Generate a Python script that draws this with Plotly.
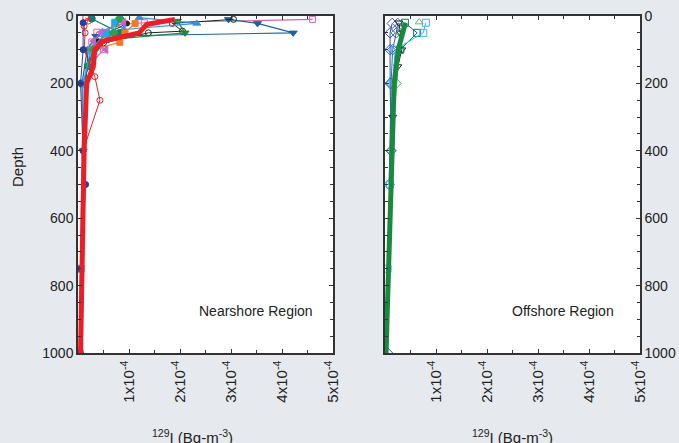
import plotly.graph_objects as go

S = 1e-4  # values below in units of 1e-4 Bq m-3

# ---------------- Nearshore region (left panel) ----------------
near_names = ["pink", "blue_down", "black_open", "black_dot", "green_down", "lightblue_up",
              "teal", "cyan_sq", "orange_sq", "red_open", "navy", "violet", "green_diamond", "red_mean"]
near_depth = {
    "pink":         [10, 20, 25, 48, 77, 100, 150, 200],
    "blue_down":    [10, 22, 50, 60, 100, 200, 400],
    "black_open":   [10, 22, 45, 50, 80, 100, 150, 200],
    "black_dot":    [22, 50, 75, 100, 200],
    "green_down":   [15, 50, 70, 100, 150],
    "lightblue_up": [5, 22, 40, 100, 200],
    "teal":         [8, 50, 100, 200],
    "cyan_sq":      [20, 50, 100, 200, 750, 1000],
    "orange_sq":    [22, 50, 78, 100],
    "red_open":     [5, 15, 30, 50, 100, 180, 250, 400, 1000],
    "navy":         [20, 100, 200, 400, 500, 750, 1000],
    "violet":       [20, 48, 75, 100],
    "green_diamond": [7, 50, 100],
    "red_mean":     [10, 25, 50, 75, 100, 150, 200, 400, 1000],
}
near_conc = {
    "pink":         [4.60, 1.30, 0.86, 0.37, 0.27, 0.50, 0.20, 0.12],
    "blue_down":    [2.95, 3.52, 4.22, 0.35, 0.18, 0.08, 0.10],
    "black_open":   [3.05, 1.85, 2.05, 1.38, 0.50, 0.25, 0.20, 0.10],
    "black_dot":    [0.96, 0.60, 0.40, 0.20, 0.15],
    "green_down":   [1.95, 2.10, 0.60, 0.35, 0.20],
    "lightblue_up": [1.20, 2.33, 0.90, 0.30, 0.10],
    "teal":         [0.27, 0.82, 0.30, 0.10],
    "cyan_sq":      [0.73, 0.55, 0.25, 0.10, 0.05, 0.03],
    "orange_sq":    [1.12, 0.92, 0.82, 0.30],
    "red_open":     [0.15, 0.20, 0.12, 0.14, 0.12, 0.33, 0.43, 0.10, 0.05],
    "navy":         [0.10, 0.10, 0.05, 0.10, 0.15, 0.05, 0.03],
    "violet":       [0.90, 0.45, 0.30, 0.55],
    "green_diamond": [0.82, 0.70, 0.30],
    "red_mean":     [1.90, 1.35, 1.20, 0.48, 0.33, 0.30, 0.17, 0.12, 0.05],
}

# ---------------- Offshore region (right panel) ----------------
off_names = ["blue_diamond", "blue_diamond2", "black_tri", "teal_sq", "cyan_sq",
             "lightgreen_up", "green_diamond", "green_mean"]
off_depth = {
    "blue_diamond":  [22, 50, 100, 200, 400, 1000],
    "blue_diamond2": [22, 50, 100, 200, 500],
    "black_tri":     [20, 50, 100, 150, 300],
    "teal_sq":       [20, 50, 100],
    "cyan_sq":       [20, 50, 100, 200, 500, 750],
    "lightgreen_up": [18],
    "green_diamond": [50, 200, 400],
    "green_mean":    [20, 50, 100, 200, 400, 750, 1000],
}
off_conc = {
    "blue_diamond":  [0.14, 0.10, 0.10, 0.10, 0.12, 0.05],
    "blue_diamond2": [0.25, 0.22, 0.15, 0.12, 0.08],
    "black_tri":     [0.27, 0.30, 0.33, 0.25, 0.15],
    "teal_sq":       [0.39, 0.63, 0.30],
    "cyan_sq":       [0.80, 0.75, 0.20, 0.15, 0.10, 0.05],
    "lightgreen_up": [0.67],
    "green_diamond": [0.30, 0.23, 0.12],
    "green_mean":    [0.40, 0.35, 0.26, 0.18, 0.14, 0.06, 0.02],
}

near_style = {
    "pink":         ("#e060a8", "square-open", 1.2, 6),
    "blue_down":    ("#1f6199", "triangle-down", 1.2, 7),
    "black_open":   ("#222222", "circle-open", 1.0, 6),
    "black_dot":    ("#222222", "circle", 1.0, 5),
    "green_down":   ("#1a8a3c", "triangle-down", 1.2, 7),
    "lightblue_up": ("#3a8fd8", "triangle-up", 1.2, 7),
    "teal":         ("#147a78", "circle", 1.2, 7),
    "cyan_sq":      ("#22a8e8", "square", 1.2, 7),
    "orange_sq":    ("#f07828", "square", 1.2, 6),
    "red_open":     ("#e8202a", "circle-open", 1.0, 6),
    "navy":         ("#2a3f9a", "circle", 1.0, 6),
    "violet":       ("#c068c8", "triangle-left", 1.2, 7),
    "green_diamond": ("#2aa050", "diamond", 1.2, 7),
    "red_mean":     ("#ee1c25", "circle", 5.0, 0),
}
off_style = {
    "blue_diamond":  ("#3050b0", "diamond-open", 1.0, 8),
    "blue_diamond2": ("#3a60c0", "diamond-open", 1.0, 8),
    "black_tri":     ("#222222", "triangle-down-open", 1.0, 7),
    "teal_sq":       ("#156f6a", "square-open", 1.0, 7),
    "cyan_sq":       ("#30b8f0", "square-open", 1.0, 7),
    "lightgreen_up": ("#55c070", "triangle-up-open", 1.0, 7),
    "green_diamond": ("#48b050", "diamond-open", 1.0, 7),
    "green_mean":    ("#178a3e", "circle", 5.0, 0),
}

fig = go.Figure()
for n in near_names:
    c, sym, lw, ms = near_style[n]
    mode = "lines" if ms == 0 else "lines+markers"
    fig.add_trace(go.Scatter(x=[v * S for v in near_conc[n]], y=near_depth[n], mode=mode,
                             line=dict(color=c, width=lw),
                             marker=dict(symbol=sym, size=ms, color=c, line=dict(color=c, width=1)),
                             xaxis="x", yaxis="y", showlegend=False))
for n in off_names:
    c, sym, lw, ms = off_style[n]
    mode = "lines" if ms == 0 else "lines+markers"
    fig.add_trace(go.Scatter(x=[v * S for v in off_conc[n]], y=off_depth[n], mode=mode,
                             line=dict(color=c, width=lw),
                             marker=dict(symbol=sym, size=ms, color=c, line=dict(color=c, width=1)),
                             xaxis="x2", yaxis="y2", showlegend=False))

x_ticks = [1e-4, 2e-4, 3e-4, 4e-4, 5e-4]
x_tick_text = ["1x10<sup>-4</sup>", "2x10<sup>-4</sup>", "3x10<sup>-4</sup>", "4x10<sup>-4</sup>", "5x10<sup>-4</sup>"]
y_ticks = [0, 200, 400, 600, 800, 1000]

axcol = "#333333"
font_ytick = dict(family="Liberation Sans, Arial, sans-serif", size=14, color="#222")
font_xtick = dict(family="Liberation Sans, Arial, sans-serif", size=15, color="#222")
xcommon = dict(range=[0, 5e-4], tickvals=x_ticks, ticktext=x_tick_text, tickangle=-90,
               ticks="inside", ticklen=4, tickcolor=axcol, showline=True, linecolor=axcol,
               linewidth=1.5, mirror="ticks", showgrid=False, zeroline=False, tickfont=font_xtick,
               automargin=False,
               minor=dict(dtick=0.5e-4, tick0=0, ticks="inside", ticklen=3, tickcolor=axcol))
ycommon = dict(range=[1000, 0], tickvals=y_ticks, ticks="inside", ticklen=4, tickcolor=axcol,
               showline=True, linecolor=axcol, linewidth=1.5, mirror="ticks", showgrid=False,
               zeroline=False, tickfont=font_ytick, automargin=False,
               minor=dict(dtick=50, tick0=0, ticks="inside", ticklen=3, tickcolor=axcol))

d1 = (333 - 78) / 562
d2 = (385 - 78) / 562
fig.update_layout(
    width=679, height=443,
    margin=dict(l=78, r=39, t=16, b=90),
    paper_bgcolor="#e6e9ed", plot_bgcolor="white",
    font=dict(family="Liberation Sans, Arial, sans-serif", size=14, color="#222"),
    xaxis=dict(domain=[0, d1], anchor="y", **xcommon),
    yaxis=dict(domain=[0, 1], anchor="x", side="left", **ycommon),
    xaxis2=dict(domain=[d2, 1], anchor="y2", **xcommon),
    yaxis2=dict(domain=[0, 1], anchor="x2", side="right", **ycommon),
    annotations=[
        dict(text="Nearshore Region", x=(256 - 78) / 562, y=(353 - 311) / 337, xref="paper", yref="paper",
             xanchor="center", yanchor="middle", showarrow=False, font=dict(size=14)),
        dict(text="Offshore Region", x=(563 - 78) / 562, y=(353 - 311) / 337, xref="paper", yref="paper",
             xanchor="center", yanchor="middle", showarrow=False, font=dict(size=14)),
        dict(text="Depth", x=(17 - 78) / 562, y=(353 - 167) / 337, xref="paper", yref="paper",
             xanchor="center", yanchor="middle", showarrow=False, textangle=-90, font=dict(size=15)),
        dict(text="<sup>129</sup>I (Bq-m<sup>-3</sup>)", x=(192 - 78) / 562, y=(353 - 436) / 337,
             xref="paper", yref="paper", xanchor="center", yanchor="middle", showarrow=False,
             font=dict(size=15)),
        dict(text="<sup>129</sup>I (Bq-m<sup>-3</sup>)", x=(512 - 78) / 562, y=(353 - 436) / 337,
             xref="paper", yref="paper", xanchor="center", yanchor="middle", showarrow=False,
             font=dict(size=15)),
    ],
)

fig.write_html("out.html", config={"displayModeBar": False},
               post_script="document.body.style.margin='0';document.body.style.overflow='hidden';")
